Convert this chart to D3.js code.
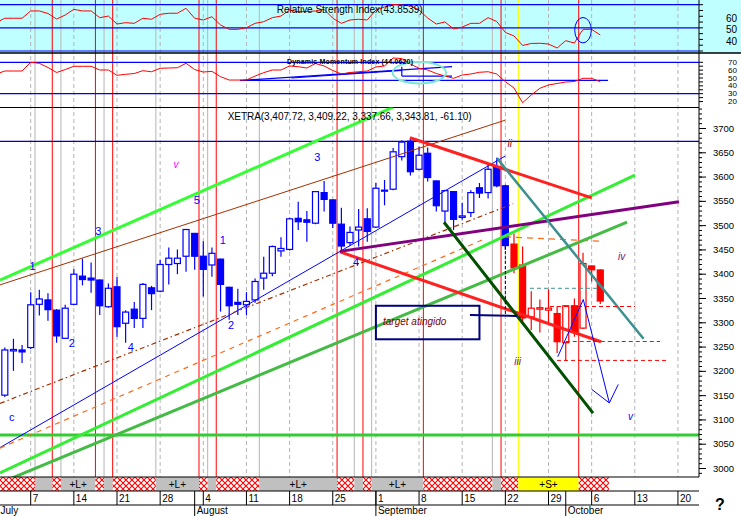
<!DOCTYPE html>
<html><head><meta charset="utf-8">
<script src="https://cdn.jsdelivr.net/npm/d3@7"></script>
<style>body{margin:0;background:#fff;}svg{display:block;font-family:"Liberation Sans",Arial,sans-serif;}</style>
</head><body><svg id="c" width="741" height="516"></svg>
<script>
// ---------- data ----------
const firstIdx = -3; // candle index of first bar (July 2); index 0 = Monday July 7
const opens  = [3150,3241,3243,3248,3337,3346,3325,3267,3337,3395,3391,3387,3332,3373,3298,3327,3308,3371,3364,3419,3421,3436,3483,3436,3418,3430,3372,3341,3336,3346,3391,3401,3447,3450,3514,3511,3504,3567,3552,3502,3464,3490,3513,3496,3570,3574,3641,3673,3615,3648,3591,3529,3569,3516,3526,3577,3567,3620,3581,3461,3418,3311,3327,3325,3318,3258,3334,3288,3416,3407.72];
const highs  = [3248,3266,3253,3362,3367,3360,3327,3336,3409,3431,3423,3388,3380,3393,3325,3342,3381,3375,3428,3454,3450,3492,3484,3467,3454,3431,3373,3369,3362,3390,3435,3458,3475,3515,3548,3529,3570,3591,3553,3536,3497,3533,3535,3587,3593,3659,3675,3679,3662,3660,3592,3573,3570,3546,3572,3587,3624,3639,3583,3483,3456,3364,3347,3368,3333,3335,3349,3443,3417,3409.22];
const lows   = [3146,3200,3216,3245,3314,3303,3258,3266,3335,3376,3361,3315,3330,3270,3258,3288,3288,3325,3362,3378,3399,3404,3408,3353,3394,3322,3305,3315,3315,3340,3367,3395,3435,3448,3490,3466,3502,3528,3494,3449,3457,3456,3466,3494,3541,3572,3633,3602,3613,3590,3528,3505,3490,3511,3517,3556,3555,3578,3449,3401,3301,3284,3279,3296,3237,3221,3270,3286,3384,3337.66];
const closes = [3243,3244,3239,3336,3348,3326,3272,3329,3399,3388,3387,3334,3370,3291,3321,3308,3378,3359,3419,3432,3432,3491,3436,3409,3442,3378,3334,3337,3343,3384,3401,3456,3452,3513,3507,3506,3569,3553,3504,3457,3485,3496,3487,3576,3572,3651,3671,3610,3644,3598,3540,3571,3512,3519,3567,3566,3615,3581,3458,3412,3309,3329,3330,3329,3260,3334,3281,3421,3408,3343.81];
const redFrom = 56; // bars drawn in red from this index

const indFirst = -4;
const rsiVals = [54.5,58.3,58.3,58.3,64.6,64.6,62.4,57.6,61.1,66.0,64.6,64.6,58.8,60.2,53.3,54.5,53.9,58.3,57.4,61.7,62.6,62.6,66.9,58.3,56.8,59.6,52.5,48.7,48.7,50.1,53.9,55.3,58.8,60.2,65.4,64.0,64.0,64.6,66.0,58.3,53.9,56.8,57.4,56.8,65.4,68.0,70.2,69.7,68.9,65.4,58.5,53.3,55.1,49.0,50.7,53.9,53.9,58.8,55.5,46.0,43.0,34.8,36.5,36.7,36.0,32.6,38.9,36.9,48.7,48.7,43.85];
const dmiVals = [55.1,58.9,58.9,58.9,70,68.7,63.4,57.0,60.8,64.9,64.9,64.9,60.2,60.2,53.4,54.7,55.7,59.3,58.0,62.4,62.7,63.1,68.7,60.8,57.6,58.5,51.7,47.4,47.4,47.4,52.5,56.8,60.2,60.2,65.3,64.4,62.7,68.5,65.3,59.6,55.1,57.0,58.0,58.9,64.0,65.3,75.5,74.8,67.8,62.4,60.2,55.7,52.5,49.6,53.8,55.1,57.3,58.0,55.1,45.3,37.3,18.5,28.3,36.9,41.1,43.0,44.9,45.5,49.6,49.6,45.3];

const dateLabels = ["7","14","21","28","4","11","18","25","1","8","15","22","29","6","13","20"];
const dateIdx    = [0,5,10,15,20,25,30,35,40,45,50,55,60,65,70,75];
const monthNames = ["July","August","September","October"];
const monthIdx   = [-4,19,40,62];

const priceMajor = [3000,3050,3100,3150,3200,3250,3300,3350,3400,3450,3500,3550,3600,3650,3700];
const rsiLabels = [60,50,40];
const rsiLevels = [70,50,30];
const dmiLabels = [70,60,50,40,30,20];
const dmiLevels = [70,30];

const redLines    = [2.5,7.5,9.5,19.5,21.5,35.5,38.5,45.5,54.5,63.5];
const yellowLines = [56.5];
const grayLines   = [0.5,3.5,8.5,14.5,20.5,26.5,37.5,39.5,53.5];

// bottom bar segments: [from, to, kind, label]
const segments = [
 [-4.5,0.5,"h",""],[0.5,2.5,"g",""],[2.5,3.5,"h",""],[3.5,7.5,"g","+L+"],[7.5,8.5,"h",""],[8.5,9.5,"g",""],
 [9.5,14.5,"h",""],[14.5,19.5,"g","+L+"],[19.5,20.5,"h",""],[20.5,21.5,"g",""],[21.5,26.5,"h",""],
 [26.5,35.5,"g","+L+"],[35.5,37.5,"h",""],[37.5,38.5,"g",""],[38.5,39.5,"h",""],[39.5,45.5,"g","+L+"],
 [45.5,53.5,"h",""],[53.5,54.5,"g",""],[54.5,56.5,"h",""],[56.5,63.5,"y","+S+"],[63.5,67,"h",""]
];

// trend lines in (bar index, price)
const trendLines = {
  greenTop:   [[-3.56,3387],[42,3743]],
  brownThin:  [[-3.56,3377],[54.96,3716]],
  blueThin:   [[-3.56,3042],[54.96,3642]],
  brownDash:  [[-3.56,3133],[55.9,3544]],
  orangeDash: [[-3.56,3041],[52.64,3472]],
  orangeFlat: [[54.96,3476],[65.97,3467]],
  greenMid:   [[-3.56,2990],[70.02,3603]],
  greenLow:   [[-3.56,2969],[69.1,3506]],
  redUpper:   [[43.95,3680],[65.0,3556]],
  redLower:   [[35.84,3445],[66.08,3260]],
  purple:     [[35.84,3446],[75.12,3548]],
  darkGreen:  [[47.89,3506],[65.16,3113]],
  teal:       [[54.03,3638],[71.01,3266]],
  redDash1:   [[60.17,3332.5],[70.02,3332.5]],
  redDash2:   [[62.0,3260.4],[72.92,3260.4]],
  redDash3:   [[60.98,3221.5],[73.96,3221.5]],
  tealDash:   [[57.85,3370],[65.97,3370]],
  blackDash:  [[55,3457],[55,3313]],
  navy:       [[50.9,3315],[56.35,3313]]
};
const hLines = {blue:3672.6, green:3068};
const forecast = [[61.07,3229],[64.03,3347],[67.05,3134]];
const arrowHead = [[65.0,3162],[67.05,3134],[68.08,3172]];
const targetBox = [[40,3334],[52,3265]];
const waveLabels = [
 ["1",0.23,3416,"w"],["3",7.83,3488,"w"],["5",19.24,3552,"w"],["1",22.25,3469,"w"],["3",33.2,3640,"w"],
 ["2",4.75,3257,"w"],["4",11.59,3250,"w"],["2",23.21,3294,"w"],["4",37.69,3425,"w"],["c",-2.2,3104,"w"],
 ["v",16.84,3624,"m"],["ii",55.5,3668,"r"],["iii",56.43,3220,"p"],["iv",68.48,3435,"p"],["v",69.5,3107,"b"]
];
const dmiTrend = [
 [[24.25,47.07],[66.9,47.07]],
 [[24.6,47.1],[48.82,64.4]],
 [[30.2,50.0],[43.0,59.6]],
 [[43.0,64.4],[43.0,52.5]],
 [[43.0,52.5],[48.82,52.5]]
];

// ---------- scales ----------
const xs = d3.scaleLinear().domain([0,75]).range([30.7, 30.7+75*8.63]);
const yp = d3.scaleLinear().domain([3000,3700]).range([468,128]);
const yr = d3.scaleLinear().domain([30,70]).range([51,4.7]);
const yd = d3.scaleLinear().domain([30,70]).range([93.7,62.3]);
const PR = 699, BOT = 477;

const svg = d3.select("#c");
const defs = svg.append("defs");
const pat = defs.append("pattern").attr("id","hatch").attr("patternUnits","userSpaceOnUse").attr("width",6).attr("height",6);
pat.append("rect").attr("width",6).attr("height",6).attr("fill","#fff");
pat.append("path").attr("d","M0,0L6,6M6,0L0,6").attr("stroke","#ff0000").attr("stroke-width",1.1);
function clip(id,x,y,w,h){defs.append("clipPath").attr("id",id).append("rect").attr("x",x).attr("y",y).attr("width",w).attr("height",h);}
clip("cMain",0,107.5,PR,BOT-107.5);
clip("cRsi",0,0,PR,53);
clip("cDmi",0,53,PR,54.5);

svg.append("rect").attr("width",741).attr("height",516).attr("fill","#fff");
svg.append("rect").attr("x",0).attr("y",0).attr("width",741).attr("height",53).attr("fill","#c0ffff");

// vertical lines
const vg = svg.append("g");
const weekly = d3.range(0,76,5);
vg.selectAll(".wk").data(weekly).join("line").attr("x1",d=>xs(d)).attr("x2",d=>xs(d)).attr("y1",0).attr("y2",BOT)
  .attr("stroke","#b4b4b4").attr("stroke-dasharray","4,3");
vg.selectAll(".gr").data(grayLines).join("line").attr("class","gr").attr("x1",d=>xs(d)).attr("x2",d=>xs(d)).attr("y1",0).attr("y2",BOT)
  .attr("stroke","#c0c0c0").attr("stroke-width",1.2);
vg.selectAll(".rd").data(redLines).join("line").attr("class","rd").attr("x1",d=>xs(d)).attr("x2",d=>xs(d)).attr("y1",0).attr("y2",BOT)
  .attr("stroke","#ff0000").attr("stroke-width",1);
vg.selectAll(".yl").data(yellowLines).join("line").attr("class","yl").attr("x1",d=>xs(d)).attr("x2",d=>xs(d)).attr("y1",0).attr("y2",BOT)
  .attr("stroke","#ffff00").attr("stroke-width",1.2);

// ---------- RSI panel ----------
const gR = svg.append("g").attr("clip-path","url(#cRsi)");
gR.selectAll("line").data(rsiLevels).join("line").attr("x1",0).attr("x2",PR).attr("y1",d=>yr(d)).attr("y2",d=>yr(d)).attr("stroke","#0000ff").attr("stroke-width",1.2);
const rsiLine = d3.line().x((d,k)=>xs(indFirst+k)).y(d=>yr(d));
gR.append("path").attr("d",rsiLine(rsiVals)).attr("fill","none").attr("stroke","#ff0000").attr("stroke-width",1);
svg.append("text").attr("x",276.7).attr("y",12.5).attr("font-size",10).attr("textLength",146).text("Relative Strength Index(43.8539)");
svg.append("ellipse").attr("cx",xs(64)).attr("cy",yr(48)).attr("rx",8.3).attr("ry",12.7).attr("fill","none").attr("stroke","#0000ff").attr("stroke-width",1);
svg.selectAll(".rl").data(rsiLabels).join("text").attr("class","rl").attr("x",726).attr("y",d=>yr(d)+2).attr("dominant-baseline","central").attr("font-size",10).text(d=>d);
svg.selectAll(".rt").data(d3.range(30,71,5)).join("line").attr("class","rt").attr("x1",PR).attr("x2",PR+4).attr("y1",d=>yr(d)).attr("y2",d=>yr(d)).attr("stroke","#000");

// ---------- DMI panel ----------
const gD = svg.append("g").attr("clip-path","url(#cDmi)");
gD.selectAll(".dl").data(dmiLevels).join("line").attr("class","dl").attr("x1",0).attr("x2",PR).attr("y1",d=>yd(d)).attr("y2",d=>yd(d)).attr("stroke","#0000ff").attr("stroke-width",1.2);
gD.selectAll(".dt").data(dmiTrend).join("line").attr("class","dt").attr("x1",d=>xs(d[0][0])).attr("y1",d=>yd(d[0][1])).attr("x2",d=>xs(d[1][0])).attr("y2",d=>yd(d[1][1])).attr("stroke","#0000ff").attr("stroke-width",1.2);
const dmiLine = d3.line().x((d,k)=>xs(indFirst+k)).y(d=>yd(d));
gD.append("path").attr("d",dmiLine(dmiVals)).attr("fill","none").attr("stroke","#ff0000").attr("stroke-width",1);
svg.append("ellipse").attr("cx",419.3).attr("cy",72.7).attr("rx",26.7).attr("ry",10.7).attr("fill","none").attr("stroke","#80e8d0").attr("stroke-width",2);
svg.append("text").attr("x",287).attr("y",64).attr("font-size",7).attr("font-weight","bold").attr("textLength",126).text("Dynamic Momentum Index (44.0620)");
svg.selectAll(".dlb").data(dmiLabels).join("text").attr("class","dlb").attr("x",728).attr("y",d=>yd(d)).attr("dominant-baseline","central").attr("font-size",8).text(d=>d);
svg.selectAll(".dtk").data(d3.range(20,71,5)).join("line").attr("class","dtk").attr("x1",PR).attr("x2",PR+4).attr("y1",d=>yd(d)).attr("y2",d=>yd(d)).attr("stroke","#000");

// separators
svg.append("line").attr("x1",0).attr("x2",741).attr("y1",53).attr("y2",53).attr("stroke","#000").attr("stroke-width",1.5);
svg.append("line").attr("x1",0).attr("x2",PR).attr("y1",107.5).attr("y2",107.5).attr("stroke","#000").attr("stroke-width",1.2);

// ---------- main panel ----------
const gM = svg.append("g").attr("clip-path","url(#cMain)");
gM.append("line").attr("x1",0).attr("x2",PR).attr("y1",yp(hLines.blue)).attr("y2",yp(hLines.blue)).attr("stroke","#0000c0").attr("stroke-width",1.2);
gM.append("line").attr("x1",0).attr("x2",PR).attr("y1",yp(hLines.green)).attr("y2",yp(hLines.green)).attr("stroke","#33cc33").attr("stroke-width",3);

// candles
const candles = opens.map((o,k)=>({i:firstIdx+k,o,h:highs[k],l:lows[k],c:closes[k]}));
const cg = gM.selectAll(".cd").data(candles).join("g");
cg.append("line").attr("x1",d=>xs(d.i)).attr("x2",d=>xs(d.i)).attr("y1",d=>yp(d.h)).attr("y2",d=>yp(d.l))
  .attr("stroke",d=>d.i>=redFrom?"#ff0000":"#0000ff").attr("stroke-width",1.2);
cg.append("rect").attr("x",d=>xs(d.i)-3).attr("width",6)
  .attr("y",d=>yp(Math.max(d.o,d.c))).attr("height",d=>Math.max(1,Math.abs(yp(d.o)-yp(d.c))))
  .attr("fill",d=>d.c>=d.o?"#fff":(d.i>=redFrom?"#ff0000":"#0000ff"))
  .attr("stroke",d=>d.i>=redFrom?"#ff0000":"#0000ff").attr("stroke-width",1.2);

const styles = {
  greenTop:{c:"#33ff33",w:3},brownThin:{c:"#a33000",w:1},blueThin:{c:"#0000ff",w:1},
  brownDash:{c:"#a33000",w:1.2,d:"5,3,1.5,3"},orangeDash:{c:"#ff6a1a",w:1.2,d:"5,5"},orangeFlat:{c:"#ff6a1a",w:1.2,d:"6,5"},
  greenMid:{c:"#33ee33",w:3},greenLow:{c:"#44bb44",w:3},redUpper:{c:"#ff2020",w:3},redLower:{c:"#ff2020",w:3},
  purple:{c:"#800080",w:3},darkGreen:{c:"#005000",w:3},teal:{c:"#3c9090",w:2.5},
  redDash1:{c:"#ff0000",w:1,d:"4,3"},redDash2:{c:"#ff0000",w:1,d:"4,3"},redDash3:{c:"#ff0000",w:1,d:"4,3"},
  tealDash:{c:"#3c9090",w:1,d:"4,3"},blackDash:{c:"#000040",w:1,d:"3,2"},navy:{c:"#000080",w:2}
};
Object.entries(trendLines).forEach(([k,pts])=>{
  const s=styles[k];
  gM.append("line").attr("x1",xs(pts[0][0])).attr("y1",yp(pts[0][1])).attr("x2",xs(pts[1][0])).attr("y2",yp(pts[1][1]))
    .attr("stroke",s.c).attr("stroke-width",s.w).attr("stroke-dasharray",s.d||null);
});
const pl = d3.line().x(d=>xs(d[0])).y(d=>yp(d[1]));
gM.append("path").attr("d",pl(forecast)).attr("fill","none").attr("stroke","#0000ff").attr("stroke-width",1);
gM.append("path").attr("d",pl(arrowHead)).attr("fill","none").attr("stroke","#0000ff").attr("stroke-width",1);
gM.append("rect").attr("x",xs(targetBox[0][0])).attr("y",yp(targetBox[0][1]))
  .attr("width",xs(targetBox[1][0])-xs(targetBox[0][0])).attr("height",yp(targetBox[1][1])-yp(targetBox[0][1]))
  .attr("fill","none").attr("stroke","#000080").attr("stroke-width",2);
gM.append("text").attr("x",383).attr("y",yp(3300)+3).attr("font-size",10).attr("font-style","italic").attr("fill","#800000").text("target atingido");

const lblColor = {w:"#0000ff",m:"#ff00ff",r:"#a00000",p:"#800080",b:"#0000ff"};
gM.selectAll(".wl").data(waveLabels).join("text").attr("class","wl").attr("x",d=>xs(d[1])).attr("y",d=>yp(d[2]))
  .attr("text-anchor","middle").attr("dominant-baseline","central")
  .attr("font-size",d=>d[3]==="w"?11:10).attr("font-style",d=>d[3]==="w"?"normal":"italic")
  .attr("fill",d=>lblColor[d[3]]).text(d=>d[0]);

svg.append("text").attr("x",227.7).attr("y",119.5).attr("font-size",10).attr("textLength",244).text("XETRA(3,407.72, 3,409.22, 3,337.66, 3,343.81, -61.10)");

// right price axis
const axG = svg.append("g").attr("transform",`translate(${PR},0)`);
axG.call(d3.axisRight(yp).tickValues(d3.range(2990,3741,10)).tickSize(3).tickFormat(""));
axG.append("g").call(d3.axisRight(yp).tickValues(priceMajor).tickSize(7).tickPadding(7).tickFormat(d3.format("d")))
  .call(g=>g.selectAll("text").attr("font-size",9.5).attr("font-family","Liberation Sans, Arial, sans-serif").attr("fill","#000"));
axG.selectAll(".domain").remove();
svg.append("line").attr("x1",PR).attr("x2",PR).attr("y1",0).attr("y2",BOT).attr("stroke","#000");

// ---------- bottom bar ----------
const bg = svg.append("g");
bg.selectAll("rect").data(segments).join("rect")
  .attr("x",d=>Math.max(0,xs(d[0]))).attr("width",d=>xs(d[1])-Math.max(0,xs(d[0])))
  .attr("y",BOT).attr("height",14)
  .attr("fill",d=>d[2]==="h"?"url(#hatch)":(d[2]==="g"?"#c0c0c0":"#ffff00"));
bg.selectAll("text").data(segments.filter(d=>d[3])).join("text")
  .attr("x",d=>(xs(d[0])+xs(d[1]))/2).attr("y",BOT+11).attr("text-anchor","middle").attr("font-size",10).text(d=>d[3]);
svg.append("line").attr("x1",0).attr("x2",PR).attr("y1",BOT).attr("y2",BOT).attr("stroke","#000");
svg.append("line").attr("x1",0).attr("x2",PR).attr("y1",491).attr("y2",491).attr("stroke","#000");
svg.append("line").attr("x1",0).attr("x2",PR).attr("y1",505).attr("y2",505).attr("stroke","#000");

const dg = svg.append("g");
dg.selectAll("line").data(dateIdx).join("line").attr("x1",d=>xs(d)).attr("x2",d=>xs(d)).attr("y1",491).attr("y2",505).attr("stroke","#000");
dg.selectAll("text").data(dateLabels).join("text").attr("x",(d,k)=>xs(dateIdx[k])+2).attr("y",502).attr("font-size",10).text(d=>d);
const mg = svg.append("g");
mg.selectAll("line").data(monthIdx).join("line").attr("x1",d=>xs(d)).attr("x2",d=>xs(d)).attr("y1",491).attr("y2",516).attr("stroke","#000");
mg.selectAll("text").data(monthNames).join("text").attr("x",(d,k)=>Math.max(0.5,xs(monthIdx[k])+2)).attr("y",514).attr("font-size",10).text(d=>d);

svg.append("text").attr("x",715).attr("y",510).attr("font-size",16).attr("font-weight","bold").text("?");
</script></body></html>
